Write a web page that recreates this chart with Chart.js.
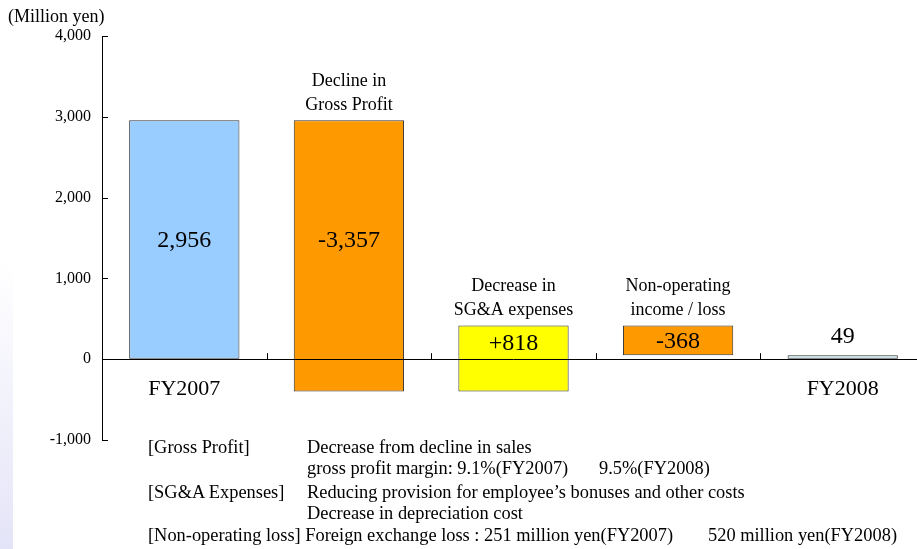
<!DOCTYPE html>
<html>
<head>
<meta charset="utf-8">
<script src="https://cdn.jsdelivr.net/npm/chart.js@4/dist/chart.umd.min.js"></script>
<style>
  html, body { margin: 0; padding: 0; background: #fff; overflow: hidden; }
  #wrap { position: relative; width: 917px; height: 549px; overflow: hidden; }
  #box { position: absolute; left: 0; top: 0; width: 925px; height: 549px; }
  #strip { position: absolute; left: 0; top: 262px; width: 13px; height: 287px;
           background: linear-gradient(to bottom, #ffffff, #e4e4f8); }
  .note { position: absolute; font-family: "Liberation Serif", "Times New Roman", serif;
          font-size: 18.4px; color: #000; white-space: pre; line-height: 20px; }
  #unit { position: absolute; left: 8px; top: 6px; font-family: "Liberation Serif", serif;
          font-size: 18px; color: #000; line-height: 20px; }
</style>
</head>
<body>
<div id="wrap">
  <div id="strip"></div>
  <div id="box"><canvas id="canvas" width="925" height="549"></canvas></div>
  <div id="unit">(Million yen)</div>
  <div class="note" style="left:148px; top:437px;">[Gross Profit]</div>
  <div class="note" style="left:307px; top:437px;">Decrease from decline in sales</div>
  <div class="note" style="left:307px; top:458px;">gross profit margin: 9.1%(FY2007)</div>
  <div class="note" style="left:599px; top:458px;">9.5%(FY2008)</div>
  <div class="note" style="left:148px; top:482px;">[SG&amp;A Expenses]</div>
  <div class="note" style="left:307px; top:482px;">Reducing provision for employee’s bonuses and other costs</div>
  <div class="note" style="left:307px; top:503px;">Decrease in depreciation cost</div>
  <div class="note" style="left:148px; top:525px;">[Non-operating loss] Foreign exchange loss : 251 million yen(FY2007)</div>
  <div class="note" style="left:708px; top:525px;">520 million yen(FY2008)</div>
</div>
<script>
/* datos */

const categories = ['FY2007', 'Decline in|Gross Profit', 'Decrease in|SG&A expenses', 'Non-operating|income / loss', 'FY2008'];
const startValue = 2956;
const changes = [-3357, 818, -368];
const endValue = 49;
const valueLabels = ['2,956', '-3,357', '+818', '-368', '49'];
const barColors = ['#99CCFF', '#FF9900', '#FFFF00', '#FF9900', '#C9E6E8'];
const yMin = -1000, yMax = 4000, yStep = 1000;

// rangos de la cascada
var ranges = [[0, startValue]];
var running = startValue;
changes.forEach(function(c){
    var next = running + c;
    ranges.push([Math.min(running, next), Math.max(running, next)]);
    running = next;
});
ranges.push([0, endValue]);

const serif = '"Liberation Serif", "Times New Roman", serif';

/* etiquetas y marcas */

var waterfallLabels = {
    id: 'waterfallLabels',
    afterDatasetsDraw: function(chart){
        var c = chart.ctx;
        var x = chart.scales.x, y = chart.scales.y;
        var area = chart.chartArea;
        var y0 = y.getPixelForValue(0);
        c.save();
        c.strokeStyle = '#000';
        c.lineWidth = 1;
        // eje en cero
        c.beginPath();
        c.moveTo(area.left, Math.round(y0) + 0.5);
        c.lineTo(area.right, Math.round(y0) + 0.5);
        c.stroke();
        // marcas de categoria
        for (var i = 0; i < categories.length - 1; i++) {
            var px = Math.round((x.getPixelForValue(i) + x.getPixelForValue(i + 1)) / 2) + 0.5;
            c.beginPath();
            c.moveTo(px, y0);
            c.lineTo(px, y0 - 6);
            c.stroke();
        }
        // marcas del eje y hacia dentro
        for (var v = yMin; v <= yMax; v += yStep) {
            var py = Math.round(y.getPixelForValue(v)) + 0.5;
            c.beginPath();
            c.moveTo(area.left, py);
            c.lineTo(area.left + 6, py);
            c.stroke();
        }

        var meta = chart.getDatasetMeta(0);
        c.fillStyle = '#000';
        c.textAlign = 'center';
        c.textBaseline = 'middle';
        meta.data.forEach(function(bar, i){
            var top = Math.min(bar.y, bar.base);
            var bottom = Math.max(bar.y, bar.base);
            c.font = '24px ' + serif;
            if (i === categories.length - 1) {
                c.fillText(valueLabels[i], bar.x, top - 19);
            } else {
                c.fillText(valueLabels[i], bar.x, (top + Math.min(bottom, y0)) / 2 + 1);
            }
            if (i === 0 || i === categories.length - 1) {
                c.font = '22px ' + serif;
                c.fillText(categories[i], bar.x, y0 + 30);
            } else {
                var lines = categories[i].split('|');
                c.font = '18px ' + serif;
                c.fillText(lines[0], bar.x, top - 39);
                c.fillText(lines[1], bar.x, top - 15);
            }
        });
        c.restore();
    }
};

var chart1 = new Chart(document.getElementById('canvas'), {
    type: 'bar',
    data: {
        labels: categories,
        datasets: [{
            data: ranges,
            backgroundColor: barColors,
            borderColor: '#333',
            borderWidth: 1,
            borderSkipped: false,
            barPercentage: 0.67,
            categoryPercentage: 1
        }]
    },
    options: {
        responsive: false,
        animation: false,
        devicePixelRatio: 1,
        layout: { padding: { top: 36, bottom: 109, left: 0, right: 0 } },
        plugins: { legend: { display: false }, tooltip: { enabled: false } },
        scales: {
            x: { display: false },
            y: {
                min: yMin,
                max: yMax,
                afterFit: function(scale){ scale.width = 102; },
                ticks: {
                    stepSize: yStep,
                    padding: 11,
                    color: '#000',
                    font: { family: serif, size: 16 },
                    callback: function(v){ return v.toLocaleString('en-US'); }
                },
                grid: { drawOnChartArea: false, drawTicks: false },
                border: { display: true, color: '#000', width: 1 }
            }
        }
    },
    plugins: [waterfallLabels]
});
</script>
</body>
</html>
